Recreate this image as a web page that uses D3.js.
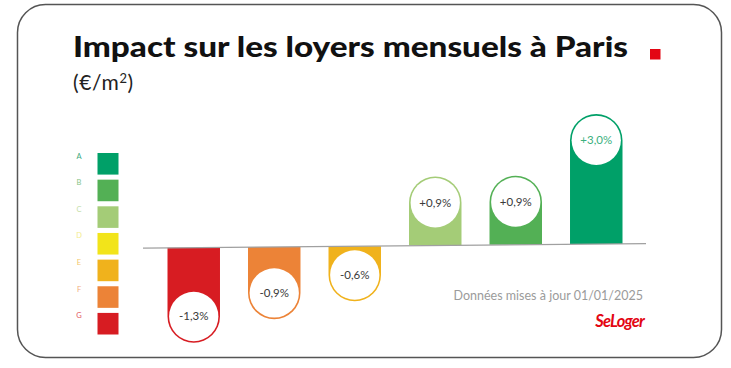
<!DOCTYPE html>
<html>
<head>
<meta charset="utf-8">
<script src="https://cdn.jsdelivr.net/npm/d3@7/dist/d3.min.js"></script>
<style>
  html, body { margin: 0; padding: 0; background: #fff; }
  svg { display: block; }
  text { font-family: Lato, "Open Sans", sans-serif; }
</style>
</head>
<body>
<svg id="chart" width="731" height="368"></svg>
<script>
// ---- Data ----
const categories = ["G", "F", "E", "C", "B", "A"];
const values = [-1.3, -0.9, -0.6, 0.9, 0.9, 3.0];
const barColors = ["#d71c22", "#ec8337", "#f0b21c", "#a4cc77", "#53b055", "#00a068"];
const legendLetters = ["A", "B", "C", "D", "E", "F", "G"];
const legendColors = ["#00a068", "#53b055", "#a4cc77", "#f2e41a", "#f0b21c", "#ec8337", "#d71c22"];
const legendLetterColors = ["#40a97e", "#86c48a", "#c4dea8", "#f3ec8a", "#f3c76c", "#f2ad7c", "#e2585d"];
const titleText = "Impact sur les loyers mensuels à Paris";
const subtitleMain = "(€/m";
const subtitleSup = "2";
const subtitleEnd = ")";
const footerText = "Données mises à jour 01/01/2025";
const brandText = "SeLoger";

// ---- Setup ----
const svg = d3.select("#chart");

const fr = d3.formatLocale({decimal: ",", thousands: " ", grouping: [3], currency: ["", "€"], minus: "-"});
const fmt = fr.format("+.1f");

// card
svg.append("rect")
  .attr("x", 17.5).attr("y", 4.5)
  .attr("width", 704).attr("height", 353)
  .attr("rx", 28).attr("ry", 28)
  .attr("fill", "#fff").attr("stroke", "#555").attr("stroke-width", 1.5);

// title
const title = svg.append("text")
  .attr("x", 73).attr("y", 57)
  .attr("font-size", 28).attr("font-weight", 900)
  .attr("fill", "#111")
  .text(titleText);
const tw = title.node().getComputedTextLength();
if (Math.abs(tw - 555) > 2) title.attr("textLength", 555).attr("lengthAdjust", "spacingAndGlyphs");

svg.append("rect")
  .attr("x", 650).attr("y", 49).attr("width", 10.5).attr("height", 10.5)
  .attr("fill", "#e30613");

const sub = svg.append("text")
  .attr("x", 73).attr("y", 90)
  .attr("font-size", 21).attr("fill", "#222")
  .attr("letter-spacing", 0.6);
sub.append("tspan").text(subtitleMain);
sub.append("tspan").attr("dy", -7.5).attr("font-size", 13).text(subtitleSup);
sub.append("tspan").attr("dy", 7.5).text(subtitleEnd);

// legend
const ly = d3.scaleBand().domain(legendLetters).range([153, 334.5]).paddingInner(0.19).paddingOuter(0);
const lg = svg.append("g");
lg.selectAll("rect").data(legendLetters).join("rect")
  .attr("x", 97.5).attr("y", d => ly(d))
  .attr("width", 21).attr("height", ly.bandwidth())
  .attr("fill", (d, i) => legendColors[i]);
lg.selectAll("text").data(legendLetters).join("text")
  .attr("x", 79).attr("y", d => ly(d) + 5.5)
  .attr("text-anchor", "middle")
  .attr("font-size", 7.5)
  .attr("fill", (d, i) => legendLetterColors[i])
  .text(d => d);

// scales
const x = d3.scaleBand().domain(categories).range([167.5, 622.5]).paddingInner(0.348).paddingOuter(0);
const bw = x.bandwidth();
const r = bw / 2;
// baseline slightly tilted
const baseY = d3.scaleLinear().domain([143, 646]).range([248.2, 243.6]);
// bar lengths: separate scales for decreases and increases (as drawn)
const lenNeg = d3.scaleLinear().domain([0, 1.3]).range([20.7, 95]);
const lenPos = d3.scaleLinear().domain([0, 3.0]).range([42.9, 130]);

const data = categories.map((c, i) => ({cat: c, v: values[i], color: barColors[i]}));

function barPath(d) {
  const x0 = x(d.cat), x1 = x0 + bw, cx = x0 + r;
  const b = baseY(cx);
  if (d.v < 0) {
    const end = b + lenNeg(-d.v);
    const cy = end - r;
    return `M${x0},${b} L${x1},${b} L${x1},${cy} A${r},${r} 0 0 1 ${x0},${cy} Z`;
  } else {
    const end = b - lenPos(d.v);
    const cy = end + r;
    return `M${x0},${b} L${x0},${cy} A${r},${r} 0 0 1 ${x1},${cy} L${x1},${b} Z`;
  }
}
function circleCY(d) {
  const cx = x(d.cat) + r;
  const b = baseY(cx);
  return d.v < 0 ? b + lenNeg(-d.v) - r : b - lenPos(d.v) + r;
}

const g = svg.append("g");
g.selectAll("path.bar").data(data).join("path")
  .attr("class", "bar")
  .attr("d", barPath)
  .attr("fill", d => d.color);

// baseline
svg.append("line")
  .attr("x1", 143).attr("x2", 646)
  .attr("y1", baseY(143)).attr("y2", baseY(646))
  .attr("stroke", "#a0a0a0").attr("stroke-width", 1.3);

g.selectAll("circle.cap").data(data).join("circle")
  .attr("class", "cap")
  .attr("cx", d => x(d.cat) + r)
  .attr("cy", circleCY)
  .attr("r", r - 1.6)
  .attr("fill", "#fff");

g.selectAll("text.lab").data(data).join("text")
  .attr("class", "lab")
  .attr("x", d => x(d.cat) + r)
  .attr("y", d => circleCY(d) + 4)
  .attr("text-anchor", "middle")
  .attr("font-size", 11.5)
  .attr("fill", d => d.cat === "A" ? "#3bb07e" : "#3a3a3a")
  .text(d => fmt(d.v) + "%");

// footer
svg.append("text")
  .attr("x", 643).attr("y", 299.5)
  .attr("text-anchor", "end")
  .attr("font-size", 12.5).attr("fill", "#9b9b9b")
  .text(footerText);

svg.append("text")
  .attr("x", 644).attr("y", 327)
  .attr("text-anchor", "end")
  .attr("font-family", "'Liberation Sans', Arial, sans-serif")
  .attr("font-size", 16.5).attr("font-weight", 700).attr("font-style", "italic")
  .attr("letter-spacing", -0.8)
  .attr("fill", "#e30613")
  .text(brandText);
</script>
</body>
</html>
